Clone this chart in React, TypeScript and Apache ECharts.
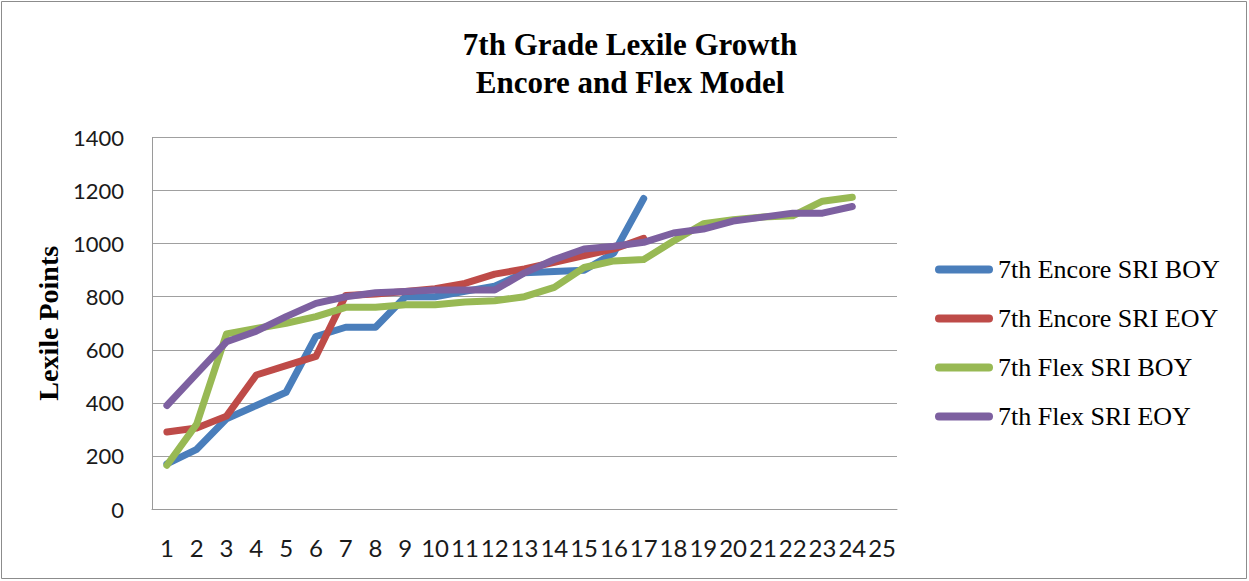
import React, { useEffect, useRef } from "react";
import * as echarts from "echarts";

const categories = Array.from({ length: 25 }, (_, i) => String(i + 1));
const seriesNames = ["7th Encore SRI BOY", "7th Encore SRI EOY", "7th Flex SRI BOY", "7th Flex SRI EOY"];
const encoreBOY = [170, 225, 340, 390, 440, 650, 685, 685, 800, 800, 820, 840, 890, 895, 900, 965, 1170];
const encoreEOY = [290, 305, 350, 505, 540, 575, 805, 810, 820, 830, 850, 885, 905, 930, 955, 980, 1020];
const flexBOY = [165, 320, 660, 680, 700, 725, 760, 760, 770, 770, 780, 785, 800, 835, 910, 935, 940, 1010, 1075, 1090, 1100, 1105, 1160, 1175];
const flexEOY = [390, 510, 630, 670, 725, 775, 800, 815, 820, 825, 825, 825, 890, 940, 980, 990, 1005, 1040, 1055, 1085, 1100, 1115, 1115, 1140];
const colors = ["#4a7ebb", "#be4b48", "#98b954", "#7d60a0"];
const yTicks = { min: 0, max: 1400, interval: 200 };

export default function App() {
  const ref = useRef<HTMLDivElement>(null);
  useEffect(() => {
    document.body.style.margin = "0";
    const chart = echarts.init(ref.current!, null, { renderer: "svg" });
    const data = [encoreBOY, encoreEOY, flexBOY, flexEOY];
    chart.setOption({
      animation: false,
      backgroundColor: "#ffffff",
      title: {
        text: "7th Grade Lexile Growth\nEncore and Flex Model",
        left: 625,
        textAlign: "center",
        top: 20,
        textStyle: {
          fontFamily: "Liberation Serif",
          fontWeight: "bold",
          fontSize: 31,
          lineHeight: 38,
          color: "#000",
        },
      },
      graphic: [
        {
          type: "rect",
          shape: { x: 1.5, y: 1.5, width: 1245, height: 577 },
          style: { fill: "none", stroke: "#8c8c8c", lineWidth: 1 },
          silent: true,
        },
      ],
      legend: {
        orient: "vertical",
        left: 935,
        top: 256,
        padding: 0,
        itemWidth: 58,
        itemHeight: 8,
        itemGap: 22,
        icon: "path://M4,0 H54 A4,4 0 0 1 54,8 H4 A4,4 0 0 1 4,0 Z",
        textStyle: {
          fontFamily: "Liberation Serif",
          fontSize: 26,
          lineHeight: 27,
          color: "#000",
        },
        data: seriesNames,
      },
      grid: { left: 152, top: 137.5, width: 745, height: 371.5, containLabel: false },
      xAxis: {
        type: "category",
        data: categories,
        boundaryGap: true,
        axisLine: { lineStyle: { color: "#9a9a9a", width: 1 } },
        axisTick: { show: false },
        axisLabel: {
          interval: 0,
          hideOverlap: false,
          margin: 26,
          fontFamily: "Lato",
          fontSize: 24,
          color: "#1a1a1a",
        },
      },
      yAxis: {
        type: "value",
        min: yTicks.min,
        max: yTicks.max,
        interval: yTicks.interval,
        name: "Lexile Points",
        nameLocation: "middle",
        nameGap: 90,
        nameTextStyle: {
          fontFamily: "Liberation Serif",
          fontWeight: "bold",
          fontSize: 28,
          color: "#000",
        },
        axisLine: { show: true, lineStyle: { color: "#9a9a9a", width: 1 } },
        axisTick: { show: false },
        splitLine: { lineStyle: { color: "#a0a0a0", width: 1.2 } },
        axisLabel: {
          margin: 28,
          fontFamily: "Lato",
          fontSize: 22,
          color: "#1a1a1a",
          formatter: (v: number) => String(v),
        },
      },
      series: seriesNames.map((name, i) => ({
        name,
        type: "line",
        data: data[i],
        showSymbol: false,
        symbol: "none",
        color: colors[i],
        lineStyle: { width: 7, color: colors[i], cap: "round", join: "round" },
      })),
    });
    return () => chart.dispose();
  }, []);
  return <div ref={ref} style={{ width: 1249, height: 581 }} />;
}
